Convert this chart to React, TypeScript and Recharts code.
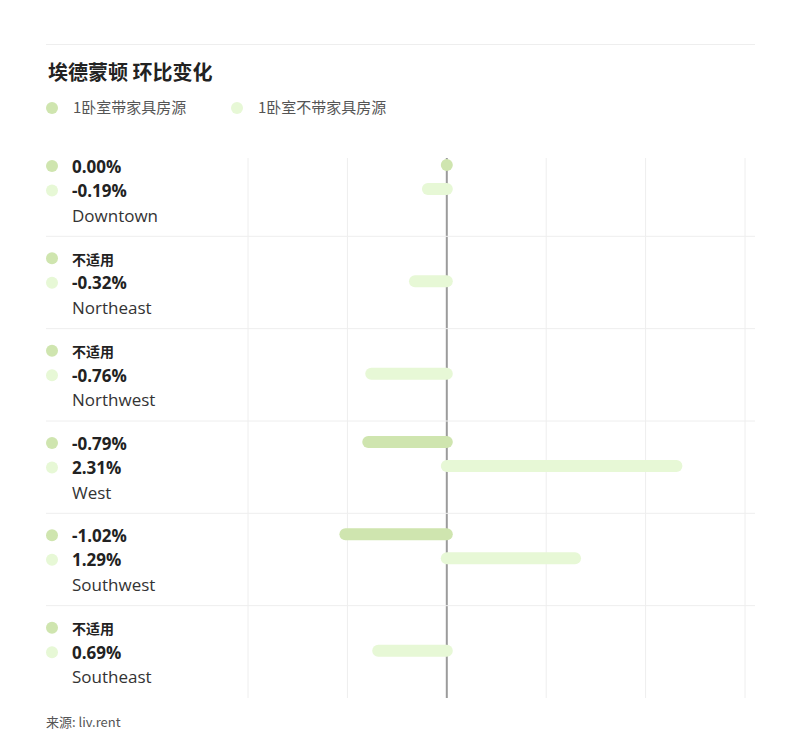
import { BarChart, Bar, XAxis, YAxis, CartesianGrid } from "recharts"

const regions = ["Downtown", "Northeast", "Northwest", "West", "Southwest", "Southeast"]
const furnished = [0, null, null, -0.79, -1.02, null]
const unfurnished = [-0.19, -0.32, -0.76, 2.31, 1.29, -0.69]
const furnishedLabels = ["0.00%", "不适用", "不适用", "-0.79%", "-1.02%", "不适用"]
const unfurnishedLabels = ["-0.19%", "-0.32%", "-0.76%", "2.31%", "1.29%", "0.69%"]
const xTicks = [-2, -1, 0, 1, 2, 3]

const W = 800
const H = 747
const TOP = 144
const BOTTOM = 49
const BAND = (H - TOP - BOTTOM) / regions.length

const GREEN = "#cfe5af"
const LIGHT = "#e7f8d6"
const LATIN = "'Open Sans', 'Noto Sans CJK SC', sans-serif"
const CJK = "'Noto Sans CJK SC', sans-serif"

const data = regions.map((region, i) => ({
  region,
  furnished: furnished[i],
  unfurnished: unfurnished[i],
}))

const pill = (color: string, key: "furnished" | "unfurnished") => (props: any) => {
  const { x, y, width, height, payload } = props
  if (payload == null || payload[key] == null) return <g />
  const cy = y + height / 2 - 13
  const x1 = Math.min(x, x + width)
  const x2 = Math.max(x, x + width)
  if (x2 - x1 < 0.5) return <circle cx={x1} cy={cy} r={6} fill={color} />
  return (
    <line x1={x1} x2={x2} y1={cy} y2={cy} stroke={color} strokeWidth={12} strokeLinecap="round" />
  )
}

function ValueText({ y, label }: { y: number; label: string }) {
  const na = label === "不适用"
  return (
    <text
      x={72}
      y={y}
      dominantBaseline="central"
      fontFamily={na ? CJK : LATIN}
      fontSize={na ? 14 : 17}
      fontWeight={700}
      fill="#222"
    >
      {label}
    </text>
  )
}

function RowTick(props: any) {
  const { y, index, payload } = props
  const top = y - BAND / 2
  return (
    <g>
      {index < regions.length - 1 && (
        <line x1={46} x2={755} y1={top + BAND} y2={top + BAND} stroke="#eeeeee" />
      )}
      <circle cx={52} cy={top + 22} r={6} fill={GREEN} />
      <circle cx={52} cy={top + 46.5} r={6} fill={LIGHT} />
      <ValueText y={top + 22.5} label={furnishedLabels[index]} />
      <ValueText y={top + 46.5} label={unfurnishedLabels[index]} />
      <text x={72} y={top + 71} dominantBaseline="central" fontFamily={LATIN} fontSize={17} fill="#333">
        {payload.value}
      </text>
    </g>
  )
}

function gridLine(props: any) {
  const { x1, x2, y1, y2, index } = props
  const zero = xTicks[index] === 0
  return (
    <line
      key={`v-${index}`}
      x1={x1}
      x2={x2}
      y1={y1 + 14}
      y2={y2}
      stroke={zero ? "#9b9b9b" : "#eeeeee"}
      strokeWidth={zero ? 2 : 1}
    />
  )
}

export default function App() {
  return (
    <div style={{ position: "absolute", left: 0, top: 0, width: W, height: H, background: "#fff" }}>
      <div style={{ position: "absolute", left: 46, top: 44, width: 709, height: 1, background: "#eeeeee" }} />
      <div
        style={{
          position: "absolute",
          left: 48,
          top: 60,
          lineHeight: "24px",
          fontSize: 20,
          fontWeight: 700,
          fontFamily: CJK,
          color: "#222",
        }}
      >
        埃德蒙顿 环比变化
      </div>
      <div style={{ position: "absolute", left: 46, top: 102, width: 12, height: 12, borderRadius: 6, background: GREEN }} />
      <div style={{ position: "absolute", left: 73, top: 97, lineHeight: "20px", fontSize: 15, fontFamily: CJK, color: "#555" }}>
        1卧室带家具房源
      </div>
      <div style={{ position: "absolute", left: 231, top: 102, width: 12, height: 12, borderRadius: 6, background: LIGHT }} />
      <div style={{ position: "absolute", left: 258, top: 97, lineHeight: "20px", fontSize: 15, fontFamily: CJK, color: "#555" }}>
        1卧室不带家具房源
      </div>

      <div style={{ position: "absolute", left: 0, top: 0 }}>
        <BarChart
          width={W}
          height={H}
          data={data}
          layout="vertical"
          margin={{ top: TOP, right: 55, bottom: BOTTOM, left: 0 }}
          barSize={12}
          barGap={12}
        >
          <CartesianGrid horizontal={false} vertical={gridLine} />
          <XAxis type="number" domain={[-2, 3]} ticks={xTicks} hide />
          <YAxis
            type="category"
            dataKey="region"
            width={248}
            axisLine={false}
            tickLine={false}
            interval={0}
            tick={RowTick}
          />
          <Bar dataKey="furnished" fill={GREEN} shape={pill(GREEN, "furnished")} isAnimationActive={false} />
          <Bar dataKey="unfurnished" fill={LIGHT} shape={pill(LIGHT, "unfurnished")} isAnimationActive={false} />
        </BarChart>
      </div>

      <div style={{ position: "absolute", left: 46, top: 713, lineHeight: "18px", fontSize: 13, fontFamily: CJK, color: "#555" }}>
        来源: liv.rent
      </div>
    </div>
  )
}
